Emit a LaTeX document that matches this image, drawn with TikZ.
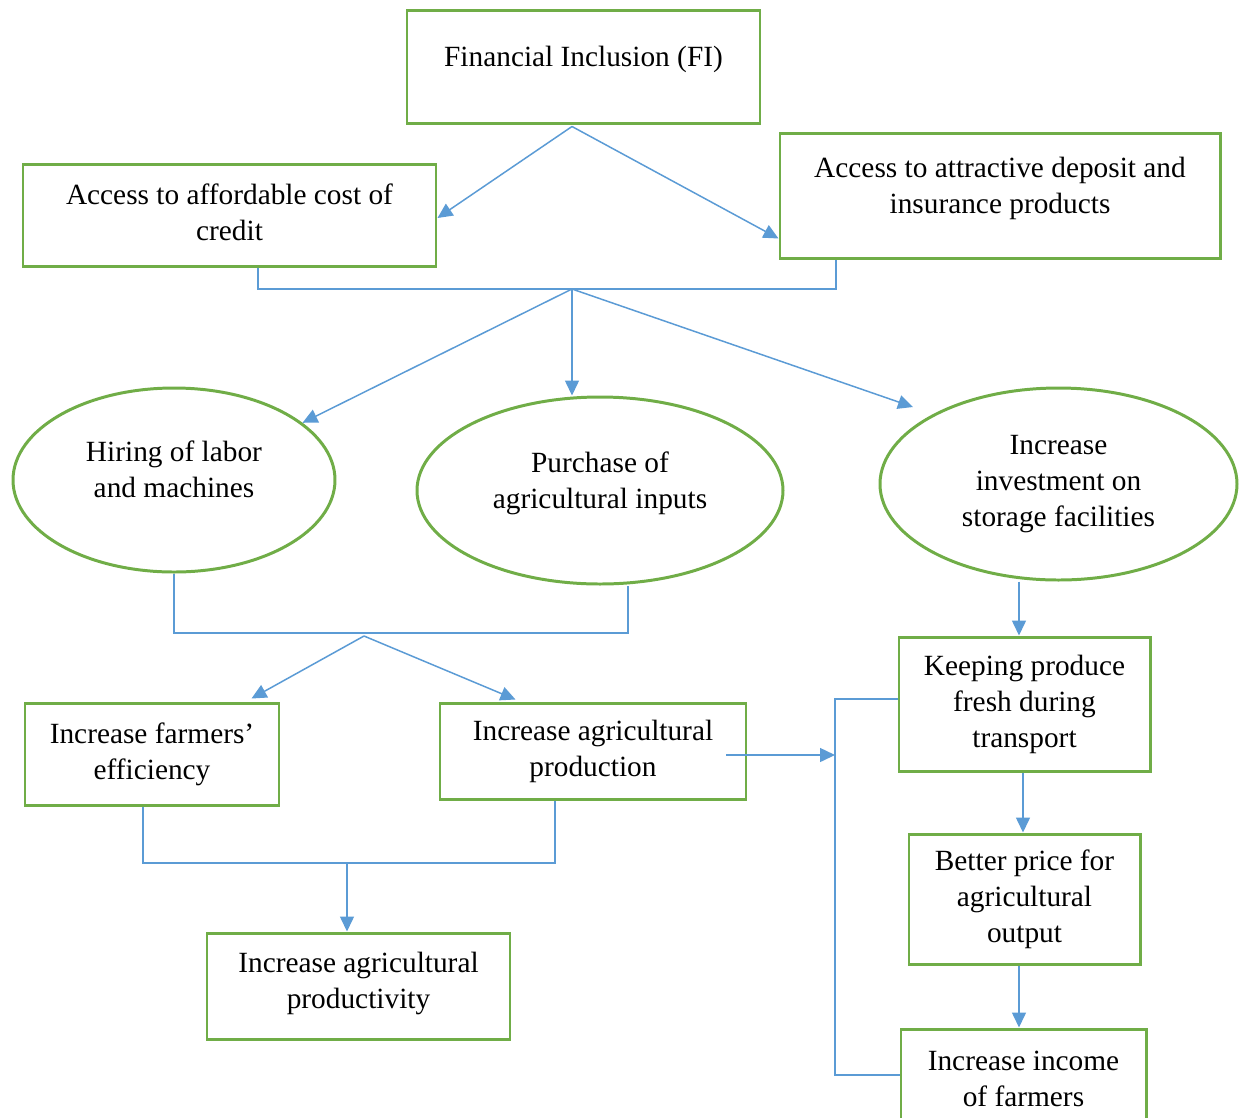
\documentclass[tikz,border=0pt]{standalone}
\usepackage{fontspec}
\setmainfont{Liberation Serif}
\usetikzlibrary{shapes.geometric,arrows.meta,calc}
\definecolor{boxgreen}{HTML}{70AD47}
\definecolor{lineblue}{HTML}{5B9BD5}
\begin{document}
\begin{tikzpicture}[x=0.02cm,y=-0.02cm,
  every node/.style={font=\fontsize{16.7pt}{20.5pt}\selectfont, align=center, text=black},
  bx/.style 2 args={draw=boxgreen, line width=1.7pt, rectangle, inner sep=0pt,
     minimum width=#1*0.02cm, minimum height=#2*0.02cm},
  el/.style 2 args={draw=boxgreen, line width=1.7pt, ellipse, inner sep=0pt,
     minimum width=#1*0.02cm, minimum height=#2*0.02cm},
  txt/.style={inner sep=0pt},
  ln/.style={draw=lineblue, line width=0.85pt},
  arr/.style={ln, -{Triangle[length=0.3cm,width=0.28cm]}}]
\useasboundingbox (0,0) rectangle (1242,1117);

% boxes
\node[bx={353}{113}] (fi) at (583.5,66.5) {};
\node[txt] (fit) at (583.5,59.5) {Financial Inclusion (FI)};
\node[bx={413}{102}] (aff) at (229.5,215) {};
\node[txt] (afft) at (229.5,212) {Access to affordable cost of\\credit};
\node[bx={440}{125}] (dep) at (1000,195.5) {};
\node[txt] (dept) at (1000,188.5) {Access to attractive deposit and\\insurance products};
\node[el={322}{184}] (hire) at (174,480) {};
\node[txt] (hiret) at (174,469.5) {Hiring of labor\\and machines};
\node[el={366}{187}] (purch) at (600,490.5) {};
\node[txt] (purcht) at (600,483.5) {Purchase of\\agricultural inputs};
\node[el={357}{192}] (inv) at (1058.5,484) {Increase\\investment on\\storage facilities};
\node[bx={254}{102}] (eff) at (152,754) {Increase farmers'\\efficiency};
\node[bx={306}{96}] (prod) at (593,751) {Increase agricultural\\production};
\node[bx={303}{106}] (prodv) at (358.5,986) {};
\node[txt] (prodvt) at (358.5,983) {Increase agricultural\\productivity};
\node[bx={251}{134}] (keep) at (1024.5,704) {Keeping produce\\fresh during\\transport};
\node[bx={231}{130}] (price) at (1024.5,899) {Better price for\\agricultural\\output};
\node[bx={245}{100}] (inc) at (1023.5,1079) {Increase income\\of farmers};

% FI to the two access boxes
\coordinate (j1) at ($(fi.south)+(-11.5,2)$);
\draw[arr] (j1) -- ($(aff.east)+(0,3)$);
\draw[arr] (j1) -- ($(dep.west)+(0,43)$);

% bracket joining the access boxes
\coordinate (b1l) at (258,289);
\coordinate (b1r) at (836,289);
\coordinate (j2) at (572,289);
\draw[ln] (aff.south -| b1l) -- (b1l) -- (b1r) -- (dep.south -| b1r);

% junction to the three ellipses
\coordinate (invtip) at ($(inv.center)+(-145.5,-77)$);
\draw[arr] (j2) -- (hire.24);
\draw[arr] (j2) -- (purch.north -| j2);
\draw[arr] (j2) -- (invtip);

% bracket under hiring / purchase
\coordinate (b2l) at (174,633);
\coordinate (b2r) at (628,633);
\draw[ln] (hire.south) -- (b2l) -- (b2r) -- (purch.south -| b2r);
\coordinate (j3) at (364,636);
\draw[arr] (j3) -- ($(eff.north east)+(-29,-3)$);
\draw[arr] (j3) -- ($(prod.north west)+(77,-2)$);

% bracket under efficiency / production
\coordinate (b3l) at (143,863);
\coordinate (b3r) at (555,863);
\coordinate (j4) at (347,863);
\draw[ln] (eff.south -| b3l) -- (b3l) -- (b3r) -- (prod.south -| b3r);
\draw[arr] (j4) -- (prodv.north -| j4);

% production to the right bracket
\coordinate (pstart) at ($(prod.east)+(-21,4)$);
\coordinate (vx) at (835,755);
\coordinate (kw) at ($(keep.west)+(0,-5)$);
\coordinate (iw) at ($(inc.west)+(0,-4)$);
\draw[arr] (pstart) -- (vx);
\draw[ln] (kw) -- (kw -| vx) -- (iw -| vx) -- (iw);

% right column
\coordinate (c1) at (1019,0);
\coordinate (c2) at (1023,0);
\draw[arr] (inv.south -| c1) -- (keep.north -| c1);
\draw[arr] (keep.south -| c2) -- (price.north -| c2);
\draw[arr] (price.south -| c1) -- (inc.north -| c1);
\end{tikzpicture}
\end{document}
